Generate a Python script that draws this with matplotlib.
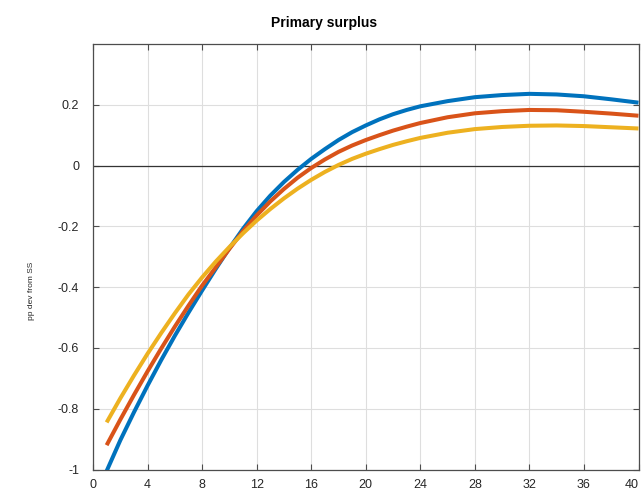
import matplotlib
matplotlib.use('Agg')
import matplotlib.pyplot as plt

plt.rcParams['font.family'] = ['Liberation Sans', 'DejaVu Sans']

# horizon (quarters) and responses
x = list(range(1, 25)) + [26, 28, 30, 32, 34, 36, 38, 40]

blue = [-1.005, -0.904, -0.812, -0.724, -0.640, -0.560, -0.484, -0.411,
        -0.340, -0.272, -0.208, -0.150, -0.099, -0.054, -0.014, 0.022,
        0.054, 0.084, 0.110, 0.132, 0.152, 0.169, 0.183, 0.195,
        0.212, 0.225, 0.232, 0.236, 0.234, 0.228, 0.218, 0.207]

red = [-0.920, -0.836, -0.755, -0.677, -0.602, -0.530, -0.461, -0.395,
       -0.335, -0.274, -0.216, -0.164, -0.118, -0.077, -0.040, -0.008,
       0.020, 0.045, 0.066, 0.084, 0.100, 0.115, 0.128, 0.140,
       0.159, 0.172, 0.179, 0.183, 0.182, 0.177, 0.171, 0.164]

yellow = [-0.845, -0.766, -0.691, -0.619, -0.551, -0.486, -0.424, -0.368,
          -0.316, -0.268, -0.223, -0.181, -0.143, -0.108, -0.076, -0.047,
          -0.021, 0.002, 0.022, 0.039, 0.054, 0.068, 0.080, 0.091,
          0.108, 0.120, 0.127, 0.131, 0.132, 0.130, 0.126, 0.122]

xticks = list(range(0, 41, 4))
yticks = [-1, -0.8, -0.6, -0.4, -0.2, 0, 0.2]
ytick_labels = ['-1', '-0.8', '-0.6', '-0.4', '-0.2', '0', '0.2']

fig = plt.figure(figsize=(6.41, 4.96), dpi=100)
ax = fig.add_axes([93 / 641, 26.5 / 496, 545.5 / 641, 425.5 / 496])

ax.grid(True, color='#dedede', linewidth=0.8)
ax.set_axisbelow(True)
ax.axhline(0, color='#333333', linewidth=0.9, zorder=1)

for y, c in [(blue, '#0072BD'), (red, '#D95319'), (yellow, '#EDB120')]:
    ax.plot(x, y, color=c, linewidth=2.9, solid_capstyle='butt', zorder=3)

ax.set_xlim(0, 40)
ax.set_ylim(-1, 0.4)
ax.set_xticks(xticks)
ax.set_yticks(yticks)
ax.set_yticklabels(ytick_labels)
xl = ax.set_xticklabels([str(t) for t in xticks])
xl[-1].set_horizontalalignment('right')

ax.tick_params(direction='in', length=4, width=0.8, color='#4d4d4d',
               labelsize=9, labelcolor='#262626', top=True, right=True)
ax.tick_params(axis='y', pad=10)
ax.tick_params(axis='x', pad=7)
for s in ax.spines.values():
    s.set_color('#4d4d4d')
    s.set_linewidth(0.9)

ax.set_title('Primary surplus', fontsize=10, fontweight='bold',
             x=0.424, pad=12)
ax.set_ylabel('pp dev from SS', fontsize=6, color='#262626')
ax.yaxis.set_label_coords(-0.106, 0.42)

fig.savefig('out.png', dpi=100)
